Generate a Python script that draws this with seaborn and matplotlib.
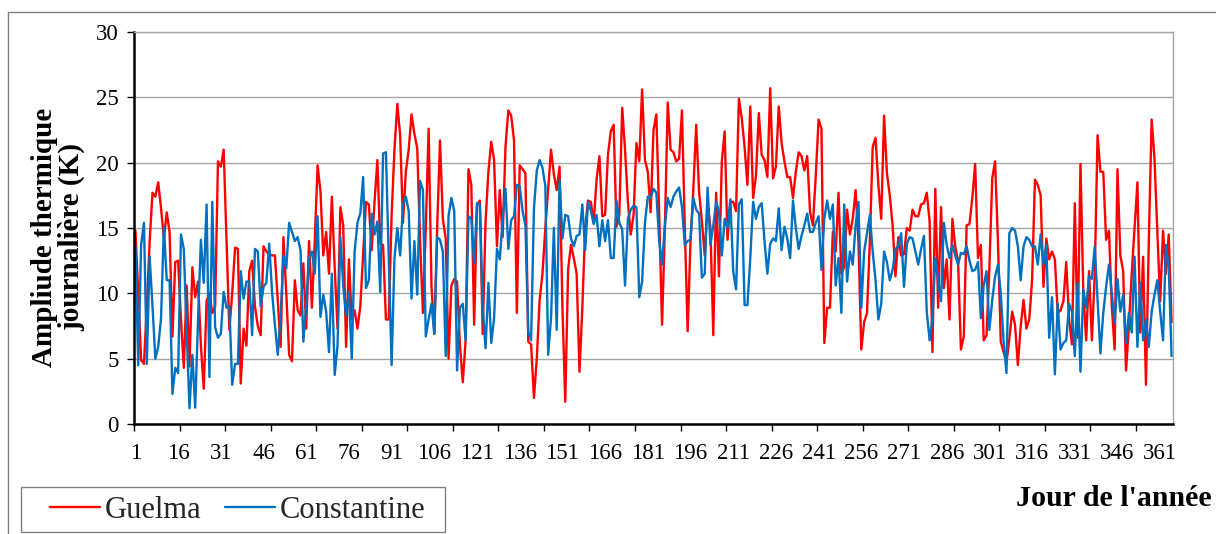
import numpy as np
import pandas as pd
import matplotlib
matplotlib.use("Agg")
import matplotlib.pyplot as plt
import seaborn as sns
from matplotlib.lines import Line2D
from matplotlib.patches import Rectangle

days = np.arange(1, 366)

guelma = [
    14.8, 10.0, 4.9, 4.6, 9.0, 14.0, 17.7, 17.4, 18.5, 16.5,
    14.2, 16.2, 14.7, 6.7, 12.4, 12.5, 8.0, 4.3, 10.6, 4.4,
    12.0, 9.7, 10.9, 6.0, 2.7, 9.4, 10.0, 8.5, 9.0, 20.1,
    19.7, 21.0, 14.0, 7.2, 10.0, 13.5, 13.4, 3.1, 7.3, 6.0,
    11.7, 12.5, 9.0, 7.5, 6.8, 13.6, 13.2, 13.0, 12.9, 12.9,
    9.5, 5.9, 14.3, 10.0, 5.3, 4.8, 11.0, 8.7, 8.3, 12.3,
    7.3, 14.0, 8.9, 14.0, 19.8, 17.8, 12.9, 14.7, 11.5, 17.4,
    12.0, 7.3, 16.6, 15.2, 5.9, 12.6, 8.0, 8.7, 7.3, 9.0,
    13.0, 17.0, 16.8, 13.3, 17.0, 20.2, 13.8, 13.7, 8.0, 8.0,
    16.0, 21.0, 24.5, 22.1, 15.4, 19.3, 21.0, 23.7, 22.2, 21.1,
    14.0, 8.5, 15.0, 22.6, 10.6, 6.9, 15.0, 21.7, 15.7, 14.2,
    5.0, 10.6, 11.1, 10.9, 6.0, 3.2, 6.4, 19.5, 18.3, 7.6,
    16.8, 17.1, 6.9, 15.5, 19.3, 21.6, 20.2, 13.6, 17.9, 14.3,
    21.2, 24.0, 23.6, 21.7, 8.5, 19.8, 19.5, 19.2, 6.3, 6.1,
    2.0, 5.0, 9.5, 11.5, 15.0, 18.0, 21.0, 19.1, 17.9, 19.7,
    9.0, 1.7, 11.8, 13.7, 12.7, 11.5, 4.0, 8.9, 15.0, 17.1,
    17.0, 15.4, 18.7, 20.5, 15.9, 16.0, 20.6, 22.4, 22.9, 15.1,
    16.0, 24.2, 21.0, 17.0, 14.5, 16.0, 21.5, 20.1, 25.6, 20.2,
    19.3, 16.2, 22.5, 23.7, 16.0, 7.6, 15.0, 24.6, 21.0, 20.8,
    20.1, 20.3, 24.0, 15.0, 7.1, 14.0, 18.0, 22.9, 17.8, 15.5,
    12.9, 17.0, 15.0, 6.8, 17.7, 11.3, 20.1, 22.4, 14.1, 17.0,
    17.0, 16.3, 24.9, 23.4, 21.2, 18.3, 24.3, 17.3, 19.0, 23.8,
    20.6, 20.2, 18.9, 25.7, 18.8, 19.7, 24.3, 21.5, 20.1, 18.9,
    18.9, 17.3, 19.3, 20.8, 20.5, 19.4, 20.5, 16.2, 15.2, 19.0,
    23.3, 22.6, 6.2, 8.9, 8.9, 14.7, 13.2, 17.7, 11.5, 12.0,
    16.4, 14.5, 15.7, 17.9, 14.0, 5.7, 7.8, 8.5, 14.0, 21.2,
    21.9, 18.3, 15.7, 23.6, 19.2, 17.5, 15.2, 11.3, 14.3, 12.9,
    13.0, 15.0, 14.8, 16.4, 15.9, 15.9, 16.8, 16.9, 17.7, 15.5,
    5.5, 18.0, 8.9, 16.6, 10.4, 12.6, 8.0, 15.7, 13.6, 12.4,
    5.7, 6.7, 15.2, 15.3, 17.3, 19.9, 12.7, 13.7, 6.4, 6.8,
    12.0, 18.8, 20.1, 14.0, 6.3, 5.5, 4.7, 6.5, 8.6, 7.6,
    4.5, 7.5, 9.5, 7.3, 8.0, 11.0, 18.7, 18.3, 17.5, 10.5,
    14.2, 12.6, 13.2, 12.6, 8.5, 8.7, 9.4, 12.4, 8.0, 6.1,
    16.9, 6.6, 19.9, 10.0, 6.4, 11.7, 6.4, 11.4, 22.1, 19.3,
    19.3, 14.1, 14.8, 9.0, 5.7, 19.5, 12.9, 11.7, 4.1, 7.5,
    11.5, 15.0, 18.5, 7.0, 12.8, 3.0, 14.0, 23.3, 20.3, 14.7,
    9.4, 14.8, 11.5, 14.5, 7.8,
]

constantine = [
    13.6, 4.5, 13.7, 15.4, 4.6, 12.8, 9.0, 5.0, 5.9, 8.1,
    15.1, 11.0, 11.0, 2.3, 4.3, 3.9, 14.5, 13.4, 7.0, 1.2,
    5.3, 1.25, 8.0, 14.1, 10.8, 16.8, 3.6, 17.0, 7.4, 6.6,
    6.9, 10.1, 8.9, 9.0, 3.0, 4.6, 4.6, 11.7, 9.6, 10.9,
    10.9, 6.8, 13.4, 13.2, 9.0, 10.5, 10.8, 13.8, 10.1, 7.6,
    5.3, 8.2, 12.9, 11.9, 15.4, 14.7, 14.0, 14.3, 13.3, 6.3,
    9.1, 12.7, 13.2, 11.5, 15.9, 8.2, 9.9, 8.6, 5.5, 11.5,
    3.75, 6.0, 14.3, 10.6, 8.3, 10.1, 5.0, 13.2, 15.4, 16.1,
    18.9, 10.4, 11.0, 16.1, 14.5, 15.5, 10.1, 20.7, 20.8, 12.5,
    4.5, 12.7, 15.0, 12.9, 16.8, 17.4, 16.3, 9.6, 14.0, 9.9,
    18.6, 17.9, 6.7, 8.0, 9.2, 6.9, 14.3, 14.1, 13.2, 5.2,
    15.9, 17.3, 16.3, 4.1, 8.9, 9.2, 6.4, 15.9, 15.7, 12.3,
    16.9, 16.8, 8.9, 5.8, 10.8, 6.2, 8.1, 13.4, 12.6, 15.7,
    18.0, 13.4, 15.6, 15.9, 18.3, 18.2, 16.3, 15.2, 7.1, 6.4,
    16.5, 19.4, 20.2, 19.6, 18.2, 5.3, 8.1, 15.0, 7.2, 18.7,
    14.2, 16.0, 15.9, 14.2, 13.6, 14.4, 14.5, 16.8, 13.3, 17.0,
    16.3, 15.3, 16.0, 13.6, 15.6, 14.0, 15.6, 12.7, 12.7, 17.1,
    15.4, 14.9, 10.6, 15.7, 16.4, 16.7, 16.6, 9.7, 10.9, 15.4,
    17.4, 17.3, 18.0, 17.7, 14.0, 12.2, 15.2, 17.3, 16.6, 17.4,
    17.8, 18.1, 16.6, 13.7, 14.0, 14.1, 17.3, 16.4, 16.1, 11.2,
    11.5, 18.1, 13.7, 15.2, 17.0, 16.3, 12.9, 15.7, 15.0, 17.2,
    11.7, 10.3, 16.8, 17.2, 9.1, 9.1, 12.7, 17.0, 15.7, 16.6,
    16.9, 14.0, 11.5, 13.8, 14.2, 14.0, 16.5, 13.3, 15.1, 14.2,
    12.7, 17.1, 15.0, 13.4, 14.4, 15.2, 16.1, 14.7, 14.7, 15.4,
    15.9, 11.8, 15.7, 17.1, 15.7, 16.8, 10.6, 12.7, 8.5, 16.8,
    10.9, 13.2, 12.2, 15.2, 17.0, 8.9, 13.2, 14.6, 16.0, 13.2,
    11.0, 8.0, 9.2, 13.2, 12.4, 11.0, 11.8, 13.4, 13.6, 14.6,
    10.5, 13.8, 14.3, 14.2, 13.2, 12.2, 13.4, 14.4, 8.6, 6.4,
    8.1, 12.7, 11.0, 9.4, 15.4, 13.7, 12.7, 13.7, 12.9, 12.2,
    13.1, 13.0, 13.6, 12.5, 11.7, 11.8, 12.4, 8.1, 10.6, 11.7,
    7.2, 9.5, 11.3, 12.2, 10.0, 6.3, 3.9, 14.6, 15.0, 14.8,
    13.6, 11.0, 13.6, 14.3, 14.1, 13.6, 13.6, 12.2, 14.5, 12.2,
    13.7, 6.6, 9.7, 3.8, 9.2, 5.7, 6.2, 6.4, 9.2, 8.6,
    5.2, 10.8, 4.0, 10.3, 8.9, 11.3, 11.1, 13.6, 9.5, 5.4,
    8.5, 10.5, 12.2, 10.0, 7.7, 11.1, 8.6, 9.9, 6.2, 8.5,
    7.0, 12.8, 5.9, 10.8, 6.4, 8.0, 5.9, 8.6, 9.9, 11.0,
    8.6, 6.4, 13.7, 12.0, 5.2,
]

series_names = ["Guelma", "Constantine"]
series_colors = {"Guelma": "#FF0000", "Constantine": "#0070C0"}
x_tick_labels = list(range(1, 366, 15))
y_ticks = [0, 5, 10, 15, 20, 25, 30]

n = len(days)
guelma = (guelma + [guelma[-1]] * n)[:n]
constantine = (constantine + [constantine[-1]] * n)[:n]

df = pd.DataFrame({
    "Jour": np.concatenate([days, days]),
    "Amplitude": guelma + constantine,
    "Station": ["Guelma"] * n + ["Constantine"] * n,
})

sns.set_theme(style="white")
plt.rcParams["font.family"] = ["Liberation Serif", "DejaVu Serif"]

W, H = 1216, 534
fig = plt.figure(figsize=(W / 100, H / 100), dpi=100)
ax = fig.add_axes([134 / W, 1 - 424 / H, (1173 - 134) / W, (424 - 32) / H])

sns.lineplot(data=df, x="Jour", y="Amplitude", hue="Station",
             hue_order=series_names, palette=series_colors,
             linewidth=1.7, ax=ax, legend=False)

ax.set_xlim(0.5, 365.5)
ax.set_ylim(0, 30)
ax.set_xlabel("")
ax.set_ylabel("")

ax.set_yticks(y_ticks)
ax.set_yticklabels([str(v) for v in y_ticks])
ax.yaxis.grid(True, color="#A6A6A6", linewidth=1)
ax.xaxis.grid(False)
ax.set_axisbelow(True)

ax.set_xticks(np.arange(0.5, 366, 16))
ax.set_xticklabels([])
ax.set_xticks(x_tick_labels, labels=[str(v) for v in x_tick_labels], minor=True)

ax.tick_params(axis="y", direction="out", length=5, width=1, colors="black",
               labelsize=16.5, pad=6, left=True)
ax.tick_params(axis="x", which="major", direction="out", length=5, width=1,
               color="black", bottom=True, labelbottom=False)
ax.tick_params(axis="x", which="minor", length=0, labelsize=16.5, pad=14,
               labelcolor="black")

for side in ["left", "bottom"]:
    ax.spines[side].set_color("black")
    ax.spines[side].set_linewidth(1.8)
for side in ["top", "right"]:
    ax.spines[side].set_color("#A6A6A6")
    ax.spines[side].set_linewidth(1)

fig.text(58 / W, 1 - 237 / H, "Ampliude thermique\njournalière (K)", rotation=90,
         ha="center", va="center", fontsize=21, fontweight="bold",
         linespacing=1.0, color="black")
fig.text(1212 / W, 1 - 499 / H, "Jour de l'année", ha="right", va="center",
         fontsize=21.5, fontweight="bold", color="black")

# legend box (drawn as a frame) and legend entries
fig.add_artist(Rectangle((21 / W, 2 / H), (445 - 21) / W, (532 - 487) / H,
                         transform=fig.transFigure, fill=False,
                         edgecolor="#808080", linewidth=1))
handles = [Line2D([], [], color=series_colors[s], linewidth=1.7) for s in series_names]
leg = fig.legend(handles, series_names, loc="center left",
                 bbox_to_anchor=(50 / W, 1 - 510 / H), ncol=2, frameon=False,
                 fontsize=22, handlelength=1.65, handletextpad=0.15,
                 columnspacing=0.75, borderpad=0, borderaxespad=0)

fig.add_artist(Line2D([8 / W, 1], [1 - 12 / H, 1 - 12 / H],
                      transform=fig.transFigure, color="#7F7F7F", linewidth=1))
fig.add_artist(Line2D([8 / W, 8 / W], [1 - 12 / H, 0],
                      transform=fig.transFigure, color="#7F7F7F", linewidth=1))

fig.savefig("out.png", dpi=100)
